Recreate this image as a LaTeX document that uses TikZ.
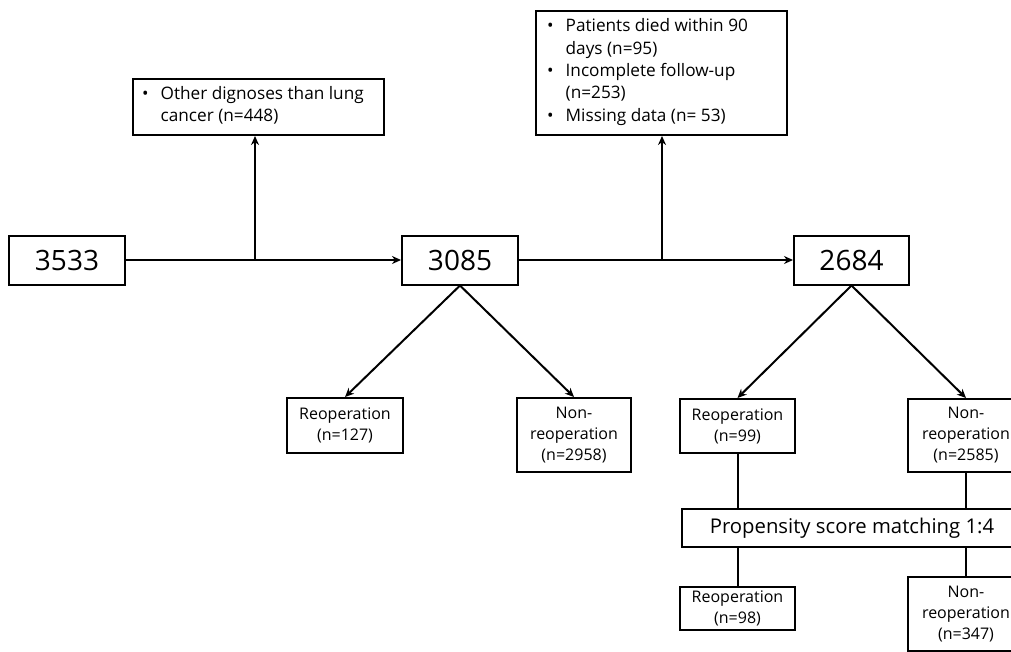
\documentclass[tikz,border=0pt]{standalone}
\usepackage{fontspec}
\setmainfont{Open Sans}
\usetikzlibrary{arrows.meta}
\begin{document}
\begin{tikzpicture}[x=1pt,y=-1pt,
  box/.style={draw=black,line width=2pt,fill=white,inner sep=0pt,align=center,font=\fontsize{16}{21}\selectfont},
  bigbox/.style={box,font=\fontsize{28}{30}\selectfont},
  conn/.style={line width=2pt,draw=black},
  arr/.style={conn,-{Stealth[length=9pt,width=8pt]}}]
\useasboundingbox (0,0) rectangle (1011,651);
\clip (0,0) rectangle (1011,651);
\fill[white] (0,0) rectangle (1011,651);
% main row
\node[bigbox,minimum width=116pt,minimum height=49pt] (a) at (67,260) {3533};
\node[bigbox,minimum width=116pt,minimum height=49pt] (b) at (460,260) {3085};
\node[bigbox,minimum width=115pt,minimum height=49pt] (c) at (851.5,260) {2684};
% exclusion boxes
\node[box,minimum width=251pt,minimum height=56pt,anchor=north west] (e1) at (132,78) {};
\node[anchor=west,font=\fontsize{17.2}{21.5}\selectfont,inner sep=0pt] (t1) at (142,106)
  {\begin{tabular}{@{}l@{\hspace{12pt}}l@{}}•&Other dignoses than lung\\&cancer (n=448)\end{tabular}};
\node[box,minimum width=251pt,minimum height=124pt,anchor=north west] (e2) at (535,10) {};
\node[anchor=west,font=\fontsize{17.2}{22.3}\selectfont,inner sep=0pt] (t2) at (547,72)
  {\begin{tabular}{@{}l@{\hspace{12pt}}l@{}}•&Patients died within 90\\&days (n=95)\\•&Incomplete follow-up\\&(n=253)\\•&Missing data (n= 53)\end{tabular}};
% split boxes
\node[box,minimum width=116pt,minimum height=55pt] (r1) at (345,425.5) {Reoperation\\(n=127)};
\node[box,minimum width=114pt,minimum height=74pt] (n1) at (574,435) {Non-\\reoperation\\(n=2958)};
\node[box,minimum width=115pt,minimum height=54pt] (r2) at (737.5,426) {Reoperation\\(n=99)};
\node[box,minimum width=116pt,minimum height=73pt] (n2) at (966,435.5) {Non-\\reoperation\\(n=2585)};
\node[box,minimum width=340pt,minimum height=38pt,font=\fontsize{20.3}{21}\selectfont] (p) at (852,528) {Propensity score matching 1:4};
\node[box,minimum width=115pt,minimum height=43pt] (r3) at (737.5,608.5) {Reoperation\\(n=98)};
\node[box,minimum width=116pt,minimum height=74pt] (n3) at (966,614) {Non-\\reoperation\\(n=347)};
% connectors
\coordinate (j1) at (255,260);
\coordinate (j2) at (662,260);
\draw[arr] (a.east) -- (b.west);
\draw[arr] (j1) -- (j1 |- e1.south);
\draw[arr] (b.east) -- (c.west);
\draw[arr] (j2) -- (j2 |- e2.south);
\draw[arr] (b.south) -- (r1.north);
\draw[arr] (b.south) -- (n1.north);
\draw[arr] (c.south) -- (r2.north);
\draw[arr] (c.south) -- (n2.north);
\draw[conn] (r2.south) -- (r2.south |- p.north);
\draw[conn] (n2.south) -- (n2.south |- p.north);
\draw[conn] (r3.north |- p.south) -- (r3.north);
\draw[conn] (n3.north |- p.south) -- (n3.north);
\end{tikzpicture}
\end{document}
